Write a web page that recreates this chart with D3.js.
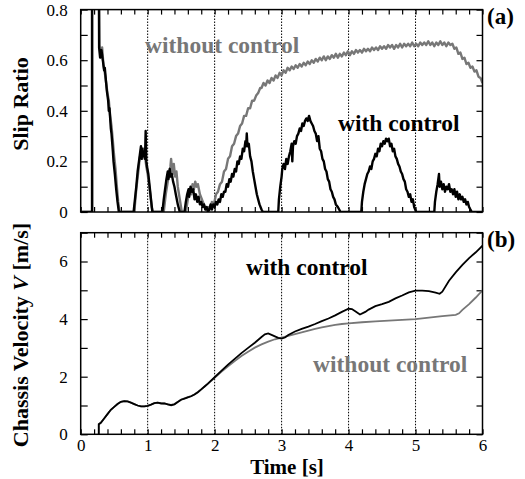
<!DOCTYPE html>
<html><head><meta charset="utf-8">
<script src="https://cdn.jsdelivr.net/npm/d3@7"></script>
<style>body{margin:0;background:#fff}svg{display:block}</style>
</head><body><svg id="c" width="525" height="479"></svg>
<script>
// ---------- data ----------
const xTickLabels = ["0","1","2","3","4","5","6"];
const slipTickLabels = ["0","0.2","0.4","0.6","0.8"];
const velTickLabels = ["0","2","4","6"];
const seriesNames = ["without control","with control"];

// slip ratio, without control [t, s]
const slipWithout = [
[0,0],[0.17,0],[0.17,1.0],[0.27,1.0],[0.28,0.66],[0.30,0.62],[0.32,0.65],[0.34,0.58],[0.36,0.55],[0.38,0.51],[0.40,0.47],
[0.42,0.44],[0.44,0.38],[0.46,0.34],[0.48,0.28],[0.50,0.22],[0.52,0.17],[0.54,0.10],[0.56,0.04],[0.58,0],
[0.80,0],[0.83,0.09],[0.86,0.16],[0.88,0.21],[0.90,0.24],[0.92,0.21],[0.94,0.25],[0.96,0.22],[0.98,0.18],[1.00,0.15],[1.03,0.09],[1.06,0.02],[1.08,0],
[1.24,0],[1.27,0.07],[1.30,0.12],[1.32,0.15],[1.34,0.18],[1.35,0.21],[1.37,0.15],[1.39,0.19],[1.41,0.14],[1.43,0.16],[1.45,0.10],[1.48,0.05],[1.51,0],
[1.57,0],[1.60,0.05],[1.63,0.09],[1.65,0.07],[1.67,0.11],[1.69,0.09],[1.71,0.12],[1.73,0.10],[1.75,0.11],[1.78,0.07],[1.81,0.05],[1.84,0.03],[1.87,0.01],
[1.90,0.02],[1.93,0.01],[1.96,0.04],[1.99,0.03],[2.02,0.07],[2.05,0.08],[2.08,0.11],[2.11,0.12],[2.14,0.16],[2.17,0.17],[2.20,0.21],[2.23,0.22],
[2.26,0.26],[2.29,0.27],[2.32,0.30],[2.35,0.31],[2.38,0.34],[2.41,0.35],[2.44,0.38],[2.47,0.38],[2.50,0.41],[2.53,0.41],[2.56,0.44],[2.59,0.44],
[2.62,0.46],[2.65,0.47],[2.68,0.49],[2.70,0.49],[2.73,0.51],[2.76,0.50],[2.79,0.52],[2.82,0.51],[2.85,0.53],[2.88,0.52],[2.91,0.54],[2.94,0.53],
[2.97,0.55],[3.00,0.54],[3.03,0.56],[3.06,0.55],[3.09,0.57],[3.12,0.56],[3.15,0.575],[3.18,0.565],[3.21,0.58],[3.24,0.57],[3.27,0.585],[3.30,0.575],
[3.33,0.59],[3.36,0.58],[3.39,0.595],[3.42,0.585],[3.45,0.60],[3.48,0.59],[3.51,0.605],[3.54,0.595],[3.57,0.61],[3.60,0.60],[3.63,0.615],[3.66,0.60],
[3.69,0.615],[3.72,0.605],[3.75,0.62],[3.78,0.61],[3.81,0.625],[3.84,0.61],[3.87,0.625],[3.90,0.615],[3.93,0.63],[3.96,0.62],[3.99,0.635],[4.02,0.62],
[4.05,0.635],[4.08,0.625],[4.11,0.64],[4.14,0.63],[4.17,0.64],[4.20,0.63],[4.23,0.645],[4.26,0.635],[4.29,0.645],[4.32,0.635],[4.35,0.65],[4.38,0.64],
[4.41,0.65],[4.44,0.64],[4.47,0.655],[4.50,0.645],[4.53,0.655],[4.56,0.645],[4.59,0.66],[4.62,0.65],[4.65,0.66],[4.68,0.645],[4.71,0.66],[4.74,0.65],
[4.77,0.665],[4.80,0.65],[4.83,0.665],[4.86,0.655],[4.89,0.665],[4.92,0.655],[4.95,0.67],[4.98,0.655],[5.01,0.665],[5.04,0.655],[5.07,0.67],[5.10,0.66],
[5.13,0.67],[5.16,0.66],[5.19,0.675],[5.22,0.66],[5.25,0.67],[5.28,0.655],[5.31,0.67],[5.34,0.66],[5.37,0.675],[5.40,0.66],[5.43,0.67],[5.46,0.655],
[5.49,0.67],[5.52,0.66],[5.55,0.665],[5.58,0.645],[5.61,0.65],[5.64,0.625],[5.67,0.63],[5.70,0.605],[5.73,0.61],[5.76,0.585],[5.79,0.59],[5.82,0.57],
[5.85,0.575],[5.88,0.555],[5.91,0.56],[5.94,0.535],[5.97,0.53],[6.00,0.51]
];

// slip ratio, with control [t, s]
const slipWith = [
[0,0],[0.17,0],[0.17,1.0],[0.27,1.0],[0.275,0.65],[0.29,0.61],[0.31,0.64],[0.33,0.60],[0.35,0.56],[0.36,0.57],[0.38,0.51],[0.39,0.48],[0.41,0.44],
[0.42,0.40],[0.43,0.41],[0.45,0.33],[0.46,0.31],[0.48,0.24],[0.49,0.20],[0.51,0.15],[0.53,0.09],[0.55,0.04],[0.57,0],
[0.79,0],[0.81,0.05],[0.83,0.10],[0.85,0.16],[0.87,0.20],[0.89,0.24],[0.90,0.26],[0.91,0.21],[0.92,0.25],[0.93,0.22],[0.95,0.24],[0.96,0.21],
[0.97,0.32],[0.98,0.20],[0.99,0.18],[1.01,0.15],[1.03,0.10],[1.05,0.05],[1.07,0],
[1.22,0],[1.24,0.05],[1.26,0.09],[1.28,0.13],[1.30,0.16],[1.31,0.13],[1.33,0.17],[1.34,0.14],[1.36,0.15],[1.38,0.12],[1.40,0.10],[1.42,0.07],[1.45,0.03],[1.48,0],
[1.55,0],[1.57,0.04],[1.59,0.07],[1.61,0.09],[1.62,0.06],[1.64,0.10],[1.66,0.08],[1.68,0.09],[1.70,0.05],[1.72,0.07],[1.74,0.04],[1.76,0.06],[1.78,0.03],
[1.80,0.04],[1.82,0.02],[1.84,0.03],[1.86,0.01],[1.88,0.02],[1.90,0],[1.92,0.01],[1.94,0.03],[1.96,0.01],[1.98,0.03],[2.00,0.02],[2.02,0.04],
[2.04,0.03],[2.06,0.05],[2.08,0.04],[2.10,0.07],[2.12,0.06],[2.14,0.08],[2.16,0.08],[2.18,0.11],[2.20,0.10],[2.22,0.13],[2.24,0.12],[2.26,0.15],
[2.28,0.14],[2.30,0.17],[2.32,0.16],[2.34,0.20],[2.36,0.19],[2.38,0.22],[2.40,0.21],[2.42,0.25],[2.44,0.24],[2.46,0.28],[2.47,0.26],[2.48,0.31],
[2.49,0.26],[2.51,0.27],[2.53,0.22],[2.55,0.20],[2.57,0.16],[2.59,0.13],[2.61,0.10],[2.63,0.07],[2.65,0.05],[2.67,0.03],[2.70,0.01],[2.72,0],
[2.95,0],[2.96,0.05],[2.98,0.10],[3.00,0.14],[3.01,0.17],[3.03,0.19],[3.05,0.17],[3.07,0.21],[3.09,0.19],[3.11,0.22],[3.13,0.24],[3.15,0.27],
[3.16,0.20],[3.17,0.26],[3.19,0.28],[3.21,0.27],[3.23,0.30],[3.25,0.31],[3.27,0.33],[3.29,0.32],[3.31,0.35],[3.33,0.34],[3.35,0.36],[3.37,0.37],
[3.39,0.36],[3.41,0.38],[3.43,0.36],[3.45,0.35],[3.47,0.34],[3.49,0.32],[3.51,0.31],[3.53,0.28],[3.55,0.30],[3.57,0.25],[3.59,0.24],[3.61,0.21],
[3.63,0.20],[3.65,0.17],[3.67,0.16],[3.69,0.13],[3.71,0.12],[3.73,0.09],[3.75,0.08],[3.77,0.06],[3.79,0.05],[3.81,0.03],[3.84,0.02],[3.88,0],
[4.19,0],[4.20,0.04],[4.22,0.08],[4.24,0.11],[4.26,0.13],[4.28,0.15],[4.30,0.16],[4.32,0.18],[4.34,0.17],[4.36,0.20],[4.38,0.21],[4.40,0.23],
[4.42,0.22],[4.44,0.25],[4.46,0.24],[4.48,0.27],[4.50,0.26],[4.52,0.28],[4.54,0.27],[4.56,0.29],[4.58,0.28],[4.60,0.29],[4.62,0.26],[4.64,0.27],
[4.66,0.24],[4.68,0.25],[4.70,0.22],[4.72,0.21],[4.74,0.19],[4.76,0.18],[4.78,0.16],[4.80,0.15],[4.82,0.13],[4.84,0.12],[4.86,0.09],[4.88,0.08],
[4.90,0.06],[4.92,0.07],[4.94,0.04],[4.96,0.05],[4.98,0.02],[5.01,0],
[5.28,0],[5.29,0.04],[5.31,0.08],[5.33,0.11],[5.35,0.15],[5.36,0.10],[5.38,0.12],[5.40,0.09],[5.42,0.11],[5.44,0.08],[5.46,0.10],[5.48,0.09],
[5.50,0.11],[5.52,0.08],[5.54,0.09],[5.56,0.07],[5.58,0.09],[5.60,0.06],[5.62,0.08],[5.64,0.05],[5.66,0.07],[5.68,0.05],[5.70,0.06],[5.72,0.04],
[5.74,0.05],[5.76,0.03],[5.78,0.04],[5.80,0.02],[5.82,0.01],[5.84,0],[6.0,0]
];

// chassis velocity, without control [t, V]
const velWithout = [
[0.27,0],[0.27,0.35],[0.30,0.40],[0.35,0.55],[0.40,0.70],[0.45,0.85],[0.50,0.95],[0.55,1.05],[0.60,1.13],[0.65,1.15],[0.70,1.14],[0.75,1.10],
[0.80,1.05],[0.85,1.00],[0.90,0.97],[0.95,0.97],[1.00,0.99],[1.05,1.03],[1.10,1.08],[1.15,1.10],[1.20,1.08],[1.25,1.07],[1.30,1.04],[1.35,1.02],
[1.40,1.05],[1.45,1.13],[1.50,1.21],[1.55,1.25],[1.60,1.29],[1.65,1.33],[1.70,1.39],[1.75,1.47],[1.80,1.56],[1.85,1.66],[1.90,1.76],[1.95,1.86],
[2.00,1.96],[2.10,2.17],[2.20,2.36],[2.30,2.54],[2.40,2.72],[2.50,2.87],[2.60,3.01],[2.70,3.12],[2.80,3.22],[2.90,3.30],[3.00,3.36],[3.10,3.42],
[3.20,3.48],[3.30,3.54],[3.40,3.60],[3.50,3.66],[3.60,3.71],[3.70,3.76],[3.80,3.80],[3.90,3.83],[4.00,3.85],[4.20,3.89],[4.40,3.92],[4.60,3.95],
[4.80,3.97],[5.00,4.00],[5.20,4.05],[5.40,4.10],[5.60,4.15],[5.65,4.20],[5.70,4.32],[5.80,4.52],[5.90,4.75],[6.00,5.00]
];

// chassis velocity, with control [t, V]
const velWith = [
[0.27,0],[0.27,0.35],[0.30,0.40],[0.35,0.55],[0.40,0.70],[0.45,0.85],[0.50,0.95],[0.55,1.05],[0.60,1.13],[0.65,1.15],[0.70,1.14],[0.75,1.10],
[0.80,1.05],[0.85,1.00],[0.90,0.97],[0.95,0.97],[1.00,0.99],[1.05,1.03],[1.10,1.08],[1.15,1.10],[1.20,1.07],[1.25,1.07],[1.30,1.04],[1.35,1.01],
[1.40,1.04],[1.45,1.12],[1.50,1.20],[1.55,1.24],[1.60,1.28],[1.65,1.32],[1.70,1.38],[1.75,1.46],[1.80,1.56],[1.85,1.66],[1.90,1.76],[1.95,1.87],
[2.00,1.98],[2.10,2.20],[2.20,2.42],[2.30,2.62],[2.40,2.82],[2.50,3.00],[2.60,3.18],[2.70,3.38],[2.75,3.47],[2.80,3.50],[2.85,3.45],[2.90,3.40],
[2.95,3.35],[3.00,3.32],[3.05,3.36],[3.10,3.45],[3.20,3.57],[3.30,3.66],[3.40,3.74],[3.50,3.83],[3.60,3.93],[3.70,4.02],[3.80,4.13],[3.90,4.25],
[4.00,4.36],[4.05,4.35],[4.10,4.27],[4.17,4.16],[4.25,4.25],[4.30,4.33],[4.40,4.45],[4.50,4.52],[4.60,4.60],[4.70,4.72],[4.80,4.82],[4.90,4.93],
[5.00,4.99],[5.10,4.99],[5.20,4.97],[5.30,4.92],[5.36,4.88],[5.40,4.95],[5.50,5.33],[5.60,5.62],[5.70,5.88],[5.80,6.12],[5.90,6.32],[6.00,6.55]
];

// ---------- drawing ----------
const FONT = "'Liberation Serif', Tinos, 'Times New Roman', serif";
const svg = d3.select("#c");
const GRAY = "#777777";
const x = d3.scaleLinear().domain([0, 6]).range([80.7, 482.5]);
const ySlip = d3.scaleLinear().domain([0, 0.8]).range([212, 9.6]);
const yVel = d3.scaleLinear().domain([0, 7]).range([434.3, 232.7]);

const xMinor = d3.range(0, 31).map(i => i / 5);

function panel(y, yTicks, yLabelVals, yLabels, showX) {
  const g = svg.append("g");
  const [y0, y1] = y.range();
  g.selectAll("line.grid").data([1,2,3,4,5]).join("line")
    .attr("x1", d => x(d)).attr("x2", d => x(d)).attr("y1", y0).attr("y2", y1)
    .attr("stroke", "#000").attr("stroke-width", 1).attr("stroke-dasharray", "1.5,1.5");
  const ab = g.append("g").attr("transform", `translate(0,${y0})`)
    .call(d3.axisBottom(x).tickValues(xMinor).tickSize(-5).tickPadding(5)
      .tickFormat((d, i) => showX && i % 5 === 0 ? xTickLabels[i / 5] : ""));
  const at = g.append("g").attr("transform", `translate(0,${y1})`)
    .call(d3.axisTop(x).tickValues(xMinor).tickSize(-5).tickFormat(""));
  const al = g.append("g").attr("transform", `translate(${x(0)},0)`)
    .call(d3.axisLeft(y).tickValues(yTicks).tickSize(-7).tickPadding(13)
      .tickFormat(d => { const k = yLabelVals.findIndex(v => Math.abs(v - d) < 1e-9); return k >= 0 ? yLabels[k] : ""; }));
  const ar = g.append("g").attr("transform", `translate(${x(6)},0)`)
    .call(d3.axisRight(y).tickValues(yTicks).tickSize(-6).tickFormat(""));
  [ab, at, al, ar].forEach(a => {
    a.attr("font-family", FONT);
    a.select(".domain").remove();
    a.selectAll("line").attr("stroke", "#000").attr("stroke-width", 1.2);
    a.selectAll("text").attr("font-size", 17).attr("font-family", FONT).attr("fill", "#000");
  });
  return g;
}

const slipTicks = d3.range(0, 9).map(i => i / 10);
panel(ySlip, slipTicks, [0, 0.2, 0.4, 0.6, 0.8], slipTickLabels, false);
panel(yVel, d3.range(0, 8), [0, 2, 4, 6], velTickLabels, true);

svg.append("defs").html(
  `<clipPath id="ca"><rect x="${x(0)}" y="${ySlip(0.8)}" width="${x(6)-x(0)}" height="${ySlip(0)-ySlip(0.8)}"/></clipPath>` +
  `<clipPath id="cb"><rect x="${x(0)}" y="${yVel(7)}" width="${x(6)-x(0)}" height="${yVel(0)-yVel(7)}"/></clipPath>`);

const lineA = d3.line().x(d => x(d[0])).y(d => ySlip(d[1]));
const lineB = d3.line().x(d => x(d[0])).y(d => yVel(d[1]));

const gA = svg.append("g").attr("clip-path", "url(#ca)");
gA.append("path").attr("d", lineA(slipWithout)).attr("fill", "none").attr("stroke", GRAY).attr("stroke-width", 2.4).attr("stroke-linejoin", "round");
gA.append("path").attr("d", lineA(slipWith)).attr("fill", "none").attr("stroke", "#000").attr("stroke-width", 2.4).attr("stroke-linejoin", "round");

const gB = svg.append("g").attr("clip-path", "url(#cb)");
gB.append("path").attr("d", lineB(velWithout)).attr("fill", "none").attr("stroke", GRAY).attr("stroke-width", 1.8);
gB.append("path").attr("d", lineB(velWith)).attr("fill", "none").attr("stroke", "#000").attr("stroke-width", 1.8);

[ySlip, yVel].forEach(y => {
  svg.append("rect").attr("x", x(0)).attr("y", y.range()[1]).attr("width", x(6) - x(0)).attr("height", y.range()[0] - y.range()[1])
    .attr("fill", "none").attr("stroke", "#000").attr("stroke-width", 1.5);
});

function txt(s, xx, yy, opts = {}) {
  const t = svg.append("text").attr("x", xx).attr("y", yy).attr("font-size", opts.size || 22).attr("font-family", FONT)
    .attr("font-weight", "bold").attr("fill", opts.fill || "#000").attr("text-anchor", opts.anchor || "start");
  if (opts.rotate) t.attr("transform", `rotate(-90,${xx},${yy})`);
  return t.text(s);
}
txt("Slip Ratio", 28, 104, { rotate: true, anchor: "middle" });
const cv = svg.append("text").attr("x", 28).attr("y", 335).attr("font-size", 22).attr("font-weight", "bold").attr("font-family", FONT)
  .attr("text-anchor", "middle").attr("transform", "rotate(-90,28,335)");
cv.append("tspan").text("Chassis Velocity ");
cv.append("tspan").attr("font-style", "italic").text("V");
cv.append("tspan").text(" [m/s]");
txt("Time [s]", 287, 474, { anchor: "middle", size: 21 });
txt("(a)", 487, 24, { size: 23 });
txt("(b)", 487, 247, { size: 23 });
txt(seriesNames[0], 145, 53, { fill: GRAY, size: 23.5 });
txt(seriesNames[1], 338, 131, { size: 23.5 });
txt(seriesNames[1], 246, 275, { size: 23.5 });
txt(seriesNames[0], 313, 372, { fill: GRAY, size: 23.5 });
</script></body></html>
